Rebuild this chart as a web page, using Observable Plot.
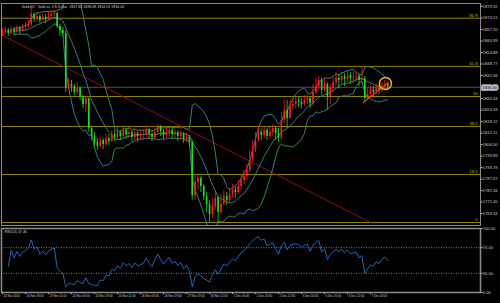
<!DOCTYPE html>
<html><head><meta charset="utf-8">
<script src="https://cdn.jsdelivr.net/npm/d3@7"></script>
<script src="https://cdn.jsdelivr.net/npm/@observablehq/plot@0.6"></script>
<style>
body{margin:0;background:#000;width:500px;height:303px;overflow:hidden}
#chart{width:500px;height:303px;background:#000}
svg{display:block}
</style>
</head><body><div id="chart"></div>
<script>
// ---- data (2-hour candles, Gold vs US Dollar) ----
const open0 = 1864.0;
const closes = [1865.5,1866.6,1865.0,1867.1,1866.0,1867.6,1866.6,1868.2,1868.7,1869.8,
 1875.1,1872.9,1874.0,1871.9,1873.5,1872.4,1874.0,1875.1,1875.6,1868.7,
 1866.6,1865.0,1835.8,1837.9,1836.8,1833.6,1835.8,1831.0,1827.3,1830.4,
 1814.5,1810.3,1807.1,1804.9,1808.1,1806.0,1809.2,1807.6,1811.3,1809.7,
 1812.4,1810.3,1813.4,1811.3,1812.4,1809.7,1811.9,1810.3,1810.8,1811.3,
 1813.4,1811.3,1809.7,1812.4,1815.0,1812.9,1810.8,1812.4,1813.4,1811.3,
 1811.9,1810.3,1811.3,1808.7,1809.7,1807.1,1778.9,1785.8,1787.9,1783.7,
 1778.4,1774.1,1768.8,1773.1,1777.3,1769.9,1774.1,1778.4,1776.2,1779.4,
 1781.6,1780.5,1783.7,1786.9,1789.0,1792.2,1797.5,1802.8,1808.1,1812.4,
 1810.8,1813.4,1810.3,1812.4,1814.5,1811.9,1809.2,1818.8,1824.1,1819.8,
 1826.2,1827.3,1828.8,1828.3,1827.3,1829.4,1830.4,1827.8,1833.6,1836.8,
 1840.0,1834.7,1837.9,1831.5,1835.8,1838.9,1841.1,1840.0,1842.1,1840.5,
 1842.7,1841.1,1841.6,1842.1,1840.0,1841.1,1830.4,1832.6,1834.7,1833.6,
 1835.8,1834.7,1836.8,1837.9,1836.4];
const highs = [1867.6,1868.2,1867.6,1868.7,1868.2,1869.2,1868.7,1869.8,1870.8,1871.9,
 1878.8,1876.1,1876.1,1875.1,1875.6,1875.1,1876.1,1876.7,1877.2,1876.1,
 1869.8,1868.2,1866.6,1841.1,1840.0,1837.9,1838.9,1836.8,1832.0,1831.5,
 1830.4,1815.6,1812.4,1809.2,1809.7,1809.2,1811.3,1811.3,1813.4,1813.4,
 1815.0,1813.4,1815.0,1814.5,1815.0,1813.4,1814.0,1812.9,1813.4,1814.0,
 1815.6,1814.5,1812.9,1814.5,1816.6,1816.1,1814.0,1814.5,1815.0,1814.5,
 1814.0,1813.4,1813.4,1812.4,1811.9,1810.8,1808.1,1789.5,1789.5,1789.0,
 1784.7,1780.5,1776.2,1777.3,1781.6,1778.4,1779.4,1781.6,1780.5,1782.6,
 1784.7,1783.7,1786.9,1790.1,1792.2,1795.4,1802.8,1808.1,1812.4,1815.6,
 1814.5,1815.6,1814.5,1815.0,1816.6,1815.6,1814.5,1823.0,1829.4,1829.4,
 1829.4,1830.4,1831.5,1831.0,1830.4,1832.0,1832.6,1831.0,1837.9,1841.1,
 1842.1,1841.1,1841.1,1838.9,1837.9,1842.1,1844.3,1843.2,1844.3,1843.7,
 1844.8,1844.3,1844.3,1844.3,1843.2,1847.4,1842.1,1835.8,1836.8,1836.8,
 1837.9,1837.9,1838.9,1840.0,1838.7];
const lows = [1863.4,1863.9,1863.4,1864.4,1863.9,1865.0,1864.4,1866.0,1866.6,1867.6,
 1868.7,1870.8,1870.8,1870.3,1871.4,1870.3,1871.9,1872.4,1872.9,1867.6,
 1863.4,1862.9,1833.6,1834.7,1833.6,1832.0,1832.6,1829.4,1825.1,1823.0,
 1812.4,1808.1,1803.9,1802.8,1803.9,1803.3,1804.9,1805.5,1807.1,1807.6,
 1808.7,1808.1,1809.2,1808.7,1809.2,1807.6,1808.1,1807.1,1808.1,1808.1,
 1809.7,1809.2,1807.6,1808.7,1810.8,1810.3,1808.7,1809.2,1809.7,1808.7,
 1809.2,1807.6,1808.1,1806.5,1807.1,1804.9,1776.2,1776.2,1781.6,1780.5,
 1776.2,1769.9,1764.6,1766.7,1770.9,1764.6,1768.8,1773.1,1773.6,1775.2,
 1777.8,1777.3,1779.4,1781.6,1784.7,1786.9,1791.1,1796.4,1801.8,1807.1,
 1808.1,1809.2,1808.1,1808.7,1810.3,1808.1,1807.1,1808.1,1816.6,1814.5,
 1823.0,1824.1,1825.1,1825.7,1825.1,1826.2,1827.3,1825.1,1826.2,1832.6,
 1834.7,1832.0,1833.6,1824.1,1827.3,1833.6,1836.8,1835.8,1837.9,1836.8,
 1838.9,1837.9,1838.4,1838.9,1836.8,1837.9,1828.3,1829.4,1831.5,1831.5,
 1832.6,1832.6,1833.6,1834.7,1834.9];

const fibLevels = [1764.6, 1790.1, 1815.6, 1831.5, 1847.5, 1873.1];
const fibLabels = ["0", "19.1", "38.2", "50", "61.8", "80.9"];
const yTicks = [1879.32,1873.21,1867.10,1860.99,1854.88,1848.77,1842.66,1830.44,1824.33,1818.22,1812.11,1806.00,1799.89,1793.78,1787.67,1781.56,1775.45,1769.34];
const rsiTicks = [0, 30, 70, 100];
const rsiLevels = [30, 70];
const xTickIdx = [0,8,16,24,32,40,48,56,64,72,80,88,96,104,112,120,128];
const xTickLabels = ["20 Nov 2020","20 Nov 18:00","23 Nov 11:00","24 Nov 03:00","24 Nov 19:00","25 Nov 11:00","26 Nov 03:00","26 Nov 19:00","27 Nov 19:00","30 Nov 12:00","1 Dec 04:00","1 Dec 20:00","2 Dec 12:00","3 Dec 04:00","3 Dec 20:00","4 Dec 12:00","7 Dec 04:00"];
const trendIdx = [-0.35, 128.0];
const trendPrice = [1864.2, 1764.6];
const supportIdx = [125.5, 134.3];
const supportPrice = [1828.3, 1838.9];
const circleIdx = [133.2];
const circlePrice = [1838.4];
const header = "Gold,H1:  Gold vs. US Dollar  1837.83 1838.68 1834.93 1836.40";
const rsiHeader = "RSI(14) 47.46";

// ---- derived ----
const candles = closes.map((c, i) => {
  const o = i ? closes[i - 1] : open0;
  return {i, o, c, h: Math.max(highs[i], o, c), l: Math.min(lows[i], o, c)};
});
const lastClose = closes[closes.length - 1];
const P = 10;
const bb = [];
closes.forEach((c, i) => {
  if (i < 4) return;
  const w = closes.slice(Math.max(0, i - P + 1), i + 1);
  const m = d3.mean(w);
  const s = Math.sqrt(d3.mean(w, v => (v - m) ** 2));
  bb.push({i, m, u: m + 2 * s, l: m - 2 * s});
});
const N = 7;
const rsi = [];
let sg = 0, sl = 0, ag = 0, al = 0;
for (let i = 1; i < closes.length; i++) {
  const ch = closes[i] - closes[i - 1];
  const g = Math.max(ch, 0), l = Math.max(-ch, 0);
  if (i <= N) { sg += g; sl += l; ag = sg / i; al = sl / i; }
  else { ag = (ag * (N - 1) + g) / N; al = (al * (N - 1) + l) / N; }
  if (i >= 2) rsi.push({i, v: al === 0 ? 100 : 100 - 100 / (1 + ag / al)});
}

const up = "#ff1c1c", down = "#1fe01f";
const fibColor = "#8c8600", bbColor = "#3a7b7d", frameColor = "#8c8c8c";
const xDomain = [-0.35, 166.26];
const font = "Liberation Sans, Arial, sans-serif";

const main = Plot.plot({
  width: 500, height: 226,
  marginLeft: 1, marginRight: 20, marginTop: 3, marginBottom: 1,
  style: {background: "#000", color: "#c8c8c8", fontSize: "4.1px", fontFamily: font},
  x: {domain: xDomain, axis: null},
  y: {domain: [1763.0, 1880.9], axis: "right", ticks: yTicks, tickFormat: d => d.toFixed(2), tickSize: 1.5, tickPadding: 0.8, label: null},
  marks: [
    Plot.ruleY(fibLevels, {y: d => d, stroke: fibColor, strokeWidth: 1}),
    Plot.text(fibLevels, {y: d => d, text: (d, j) => fibLabels[j], frameAnchor: "right", textAnchor: "end", dx: -3, dy: -2.4, fill: "#c8b800", fontSize: 4.1}),
    Plot.ruleY([lastClose], {y: d => d, stroke: "#4c5060"}),
    Plot.line(trendIdx.map((x, j) => ({x, y: trendPrice[j]})), {x: "x", y: "y", stroke: "#8a1414", strokeWidth: 1}),
    Plot.line(bb, {x: "i", y: "u", stroke: bbColor, strokeWidth: 1, clip: true}),
    Plot.line(bb, {x: "i", y: "m", stroke: bbColor, strokeWidth: 1, clip: true}),
    Plot.line(bb, {x: "i", y: "l", stroke: bbColor, strokeWidth: 1, clip: true}),
    Plot.ruleX(candles, {x: "i", y1: "l", y2: "h", stroke: d => d.c > d.o ? up : down, strokeWidth: 0.8}),
    Plot.ruleX(candles, {x: "i", y1: "o", y2: "c", stroke: d => d.c > d.o ? up : down, strokeWidth: 1.6}),
    Plot.line(supportIdx.map((x, j) => ({x, y: supportPrice[j]})), {x: "x", y: "y", stroke: "#ff2a2a", strokeWidth: 1.2}),
    Plot.dot(circleIdx.map((x, j) => ({x, y: circlePrice[j]})), {x: "x", y: "y", r: 6, stroke: "#f2b400", strokeWidth: 1.5, fill: "none"}),
    Plot.text([header], {text: d => d, frameAnchor: "top-left", dx: 20, dy: 2, fill: "#c8c8c8", fontSize: 3.6}),
    Plot.text([lastClose], {y: d => d, text: d => d.toFixed(2), frameAnchor: "right", textAnchor: "start", dx: 1.8, fill: "#101018", stroke: "#b8bcc8", strokeWidth: 3.5, fontSize: 4.1}),
    Plot.frame({stroke: frameColor})
  ]
});

const rsiPlot = Plot.plot({
  width: 500, height: 77,
  marginLeft: 1, marginRight: 20, marginTop: 2, marginBottom: 11,
  style: {background: "#000", color: "#c8c8c8", fontSize: "4.1px", fontFamily: font},
  x: {domain: xDomain, axis: "bottom", ticks: xTickIdx, tickFormat: () => "", tickSize: 2, label: null},
  y: {domain: [0, 100], axis: "right", ticks: rsiTicks, tickFormat: d => d.toFixed(2), tickSize: 1.5, tickPadding: 0.8, label: null},
  marks: [
    Plot.ruleY(rsiLevels, {y: d => d, stroke: "#808080", strokeDasharray: "1,1.5"}),
    Plot.line(rsi, {x: "i", y: "v", stroke: "#2a62b0", strokeWidth: 1}),
    Plot.text([rsiHeader], {text: d => d, frameAnchor: "top-left", dx: 3, dy: 2, fill: "#c8c8c8", fontSize: 3.6}),
    Plot.text(xTickIdx, {x: d => d, text: (d, j) => xTickLabels[j], frameAnchor: "bottom", textAnchor: "start", lineAnchor: "top", dx: 1, dy: 2.5, fill: "#c8c8c8", fontSize: 2.9}),
    Plot.frame({stroke: frameColor, strokeWidth: 1.5})
  ]
});

const el = document.getElementById("chart");
el.appendChild(main);
el.appendChild(rsiPlot);
</script>
</body></html>
